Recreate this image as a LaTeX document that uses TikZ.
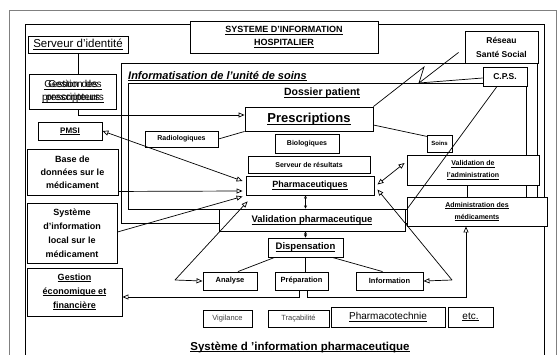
\documentclass[tikz,border=0pt]{standalone}
\usepackage{fontspec}
\setmainfont{Liberation Sans}
\usetikzlibrary{arrows.meta,calc}
\definecolor{cadre}{HTML}{808080}
\definecolor{gristxt}{HTML}{404040}
\newcommand{\fs}[2]{\fontsize{#1}{#2}\selectfont}
\newcommand{\uln}[1]{\setbox0=\hbox{#1}\rlap{\vrule height -0.11em depth 0.18em width \wd0}\box0}

\begin{document}
\begin{tikzpicture}[x=1pt,y=-1pt,every node/.style={font=\bfseries\fs{7}{9}},
  bx/.style={draw,fill=white,line width=0.9pt,inner sep=1pt,align=center},
  fr/.style={line width=0.8pt},
  ln/.style={line width=0.7pt},
  ar/.style={ln,-{Triangle[open,length=6pt,width=5pt]}},
  dar/.style={ln,{Triangle[open,length=6pt,width=5pt]}-{Triangle[open,length=6pt,width=5pt]}},
  sar/.style={ln,{Triangle[open,length=3pt,width=3pt]}-{Triangle[open,length=3pt,width=3pt]}}]
\useasboundingbox (0,0) rectangle (557,354);
\fill[white] (0,0) rectangle (557,354);
\clip (0,0) rectangle (557,354);
% cadres
\draw[cadre,fr] (9,10) rectangle (556,380);
\draw[fr] (25,24) rectangle (544,380);
\draw[fr] (121,63) rectangle (537,223);
\draw[fr] (128,83) rectangle (526,209);
\node[font=\bfseries\itshape\fs{11}{13},anchor=west,inner sep=0pt] (unite) at (128,76)
  {\uln{Informatisation de l’unité de soins}};
\node[font=\bfseries\fs{10.5}{12}] (dossier) at (322,93) {\uln{Dossier patient}};
% boites de gauche
\node[bx,minimum width=188pt,minimum height=32pt,font=\bfseries\fs{9}{13}] (titre)
  at (284,37) {\uln{SYSTEME D’INFORMATION}\\\uln{HOSPITALIER}};
\node[bx,minimum width=100pt,minimum height=17pt,font=\fs{11.5}{13}] (srv)
  at (78,44.5) {\uln{Serveur d’identité}};
\node[bx,minimum width=87pt,minimum height=35pt] (gest) at (72.5,91.5) {};
\node[font=\fs{10}{13},align=center] (gestA) at (71,91.5) {\uln{Gestion des}\\\uln{prescripteurs}};
\node[font=\fs{10}{13},align=center] (gestB) at (75,91.5) {\uln{Gestion des}\\\uln{prescripteurs}};
\node[bx,minimum width=64pt,minimum height=18pt,font=\bfseries\fs{8}{9}] (pmsi)
  at (70,131) {\uln{PMSI}};
\node[bx,minimum width=91pt,minimum height=46pt,font=\bfseries\fs{9}{13}] (base)
  at (72.5,172) {Base de\\données sur le\\médicament};
\node[bx,minimum width=90pt,minimum height=60pt,font=\bfseries\fs{9}{14}] (sil)
  at (72,233) {Système\\d’information\\local sur le\\médicament};
\node[bx,minimum width=95pt,minimum height=48pt,font=\bfseries\fs{9}{14}] (gef)
  at (74.5,292) {\uln{Gestion}\\\uln{économique et}\\\uln{financière}};
% boites de droite
\node[bx,minimum width=73pt,minimum height=32pt,font=\bfseries\fs{8.5}{14}] (res)
  at (501.5,47) {Réseau\\Santé Social};
\node[bx,minimum width=44pt,minimum height=19pt,font=\bfseries\fs{8.5}{10}] (cps)
  at (505,76.5) {C.P.S.};
\node[bx,minimum width=132pt,minimum height=30pt,font=\bfseries\fs{7}{12}] (vadm)
  at (473,170) {\uln{Validation de}\\\uln{l’administration}};
\node[bx,minimum width=140pt,minimum height=29pt,font=\bfseries\fs{7}{12}] (adm)
  at (477,211.5) {\uln{Administration des}\\\uln{médicaments}};
% dossier patient
\node[bx,minimum width=128pt,minimum height=24pt,font=\bfseries\fs{13}{15}] (presc)
  at (309,119) {\uln{Prescriptions}};
\node[bx,minimum width=73pt,minimum height=16pt] (radio) at (181.5,139) {Radiologiques};
\node[bx,minimum width=64pt,minimum height=19pt] (bio) at (307,143.5) {Biologiques};
\node[bx,minimum width=25pt,minimum height=17pt,font=\bfseries\fs{6}{7}] (soins)
  at (439.5,143.5) {Soins};
\node[bx,minimum width=122pt,minimum height=17pt] (serv) at (309,164.5) {Serveur de résultats};
\node[bx,minimum width=128pt,minimum height=19pt,font=\bfseries\fs{9}{11}] (pharma)
  at (310,185.5) {\uln{Pharmaceutiques}};
% circuit du medicament
\node[bx,minimum width=186pt,minimum height=22pt,font=\bfseries\fs{9.5}{11}] (vph)
  at (312,220) {\uln{Validation pharmaceutique}};
\node[bx,minimum width=75pt,minimum height=19pt,font=\bfseries\fs{9.5}{11}] (disp)
  at (305.5,247.5) {\uln{Dispensation}};
\node[bx,minimum width=54pt,minimum height=18pt,font=\bfseries\fs{7.5}{9}] (ana)
  at (230,281) {Analyse};
\node[bx,minimum width=53pt,minimum height=18pt,font=\bfseries\fs{7.5}{9}] (prep)
  at (301.5,281) {Préparation};
\node[bx,minimum width=67pt,minimum height=18pt,font=\bfseries\fs{7.5}{9}] (info)
  at (389.5,281) {Information};
\node[bx,minimum width=49pt,minimum height=17pt,font=\fs{7.5}{9},text=gristxt] (vig)
  at (227.5,318.5) {Vigilance};
\node[bx,minimum width=61pt,minimum height=17pt,font=\fs{7.5}{9},text=gristxt] (trac)
  at (298.5,318.5) {Traçabilité};
\node[bx,minimum width=114pt,minimum height=20pt,font=\fs{10}{12}] (phtech)
  at (388,317) {\uln{Pharmacotechnie}};
\node[bx,minimum width=45pt,minimum height=20pt,font=\fs{10}{12}] (etc)
  at (470.5,317) {\uln{etc.}};
\node[font=\bfseries\fs{11.5}{13}] (sipharma) at (300,347)
  {\uln{Système d ’information pharmaceutique}};
% liaisons
\coordinate (zig) at (424,67);
\coordinate (pointe) at (419,83);
\coordinate (fourchG) at (175,280);
\coordinate (fourchD) at (452,280);
\draw[ln] (srv.south) -- (srv.south |- gest.north);
\draw[ar] (srv.south |- gest.south) |- ($(presc.west)+(0,-4)$);
\draw[dar] (pmsi.east) -- ($(pharma.west)+(-3,-4.5)$);
\draw[ar] ($(base.south east)+(0,-4)$) -- ($(pharma.west)+(-3,5.5)$);
\draw[ar] ($(sil.east)+(0,-1)$) -- ($(pharma.south west)+(-3,1)$);
\draw[ln] (radio.east) -- (presc.south west);
\draw[ln] ($(presc.east)+(0,6)$) -- ($(soins.north west)+(1,2)$);
\draw[ln] (presc.north east) -- (zig) -- (pointe);
\draw[ln] ($(res.south west)+(-6,-11)$) -- (pointe);
\draw[ln] ($(cps.west)+(0,1.5)$) -- (pointe);
\draw[ln] ($(cps.south)+(-8,0)$) -- ($(vph.north east)+(2,0)$);
\draw[dar] ($(pharma.east)+(3,-1)$) -- ($(vadm.west)+(-2,-7)$);
\draw[ln] ($(vadm.south)+(-6,0)$) -- ($(adm.north)+(-10,0)$);
\draw[sar] (disp |- pharma.south) -- (disp |- vph.north);
\draw[sar] (disp |- vph.south) -- (disp.north);
\draw[ln] ($(disp.south west)+(7,0)$) -- ($(ana.north)+(8,0)$);
\draw[ln] (disp.south) -- (disp.south |- prep.north);
\draw[ln] ($(disp.south east)+(-11,0)$) -- ($(info.north)+(-7,0)$);
\draw[ar] (fourchG) -- ($(pharma.south west)+(2,6)$);
\draw[ar] (fourchG) -- (ana.west);
\draw[ar] (fourchD) -- ($(pharma.east)+(3,4)$);
\draw[ar] (fourchD) -- (info.east);
\draw[ar] ($(prep.south)+(-2,0)$) |- ($(gef.east)+(0,5)$);
\draw[ar] ($(prep.south)+(6,0)$) -- ++(0,7) -| ($(adm.south)+(-11,0)$);
\end{tikzpicture}
\end{document}
